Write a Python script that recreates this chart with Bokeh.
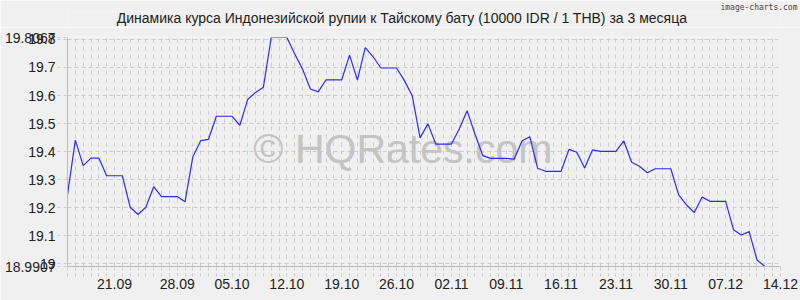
from bokeh.plotting import figure
from bokeh.layouts import column
from bokeh.models import Range1d, FixedTicker, Label
from bokeh.embed import file_html
from bokeh.resources import INLINE

# Daily rate, 10000 IDR / 1 THB
values = [
    19.246, 19.441, 19.350, 19.377, 19.377, 19.314, 19.314, 19.314, 19.202, 19.176,
    19.202, 19.275, 19.240, 19.240, 19.240, 19.221, 19.382, 19.439, 19.444, 19.526,
    19.526, 19.526, 19.494, 19.586, 19.611, 19.629, 19.8067, 19.8067, 19.8067, 19.748,
    19.694, 19.623, 19.613, 19.656, 19.656, 19.656, 19.744, 19.655, 19.771, 19.738,
    19.698, 19.698, 19.698, 19.653, 19.599, 19.449, 19.499, 19.427, 19.427, 19.427,
    19.481, 19.546, 19.463, 19.386, 19.376, 19.376, 19.376, 19.373, 19.438, 19.453,
    19.341, 19.330, 19.330, 19.330, 19.408, 19.398, 19.342, 19.406, 19.401, 19.401,
    19.401, 19.438, 19.362, 19.348, 19.325, 19.339, 19.339, 19.339, 19.246, 19.210,
    19.183, 19.238, 19.223, 19.223, 19.223, 19.122, 19.103, 19.115, 19.014, 18.9907,
    18.9907, 18.9907,
]
day_index = list(range(len(values)))

x_tick_days = [6, 14, 21, 28, 35, 42, 49, 56, 63, 70, 77, 84, 91]
x_tick_labels = ["21.09", "28.09", "05.10", "12.10", "19.10", "26.10", "02.11",
                 "09.11", "16.11", "23.11", "30.11", "07.12", "14.12"]

y_ticks = [18.9907, 19.0, 19.1, 19.2, 19.3, 19.4, 19.5, 19.6, 19.7, 19.8, 19.8067]
y_tick_labels = ["18.9907", "19", "19.1", "19.2", "19.3", "19.4", "19.5", "19.6",
                 "19.7", "19.8", "19.8067"]

title_text = "Динамика курса Индонезийской рупии к Тайскому бату (10000 IDR / 1 THB) за 3 месяца"
credit_text = "image-charts.com"

BG = "#f0f0f0"
GRID = "#cccccc"
FONT = "Liberation Sans"

W = 800
HEADER_H = 27
FL, FT, FW, FH, FB = 67, 10, 713, 229, 34

# ---- header (title + credit); its frame is aligned with the chart frame ----
head = figure(width=W, height=HEADER_H, output_backend="svg", toolbar_location=None,
              x_range=Range1d(0, 1), y_range=Range1d(0, 1),
              x_axis_type=None, y_axis_type=None,
              min_border_left=0, min_border_right=0, min_border_top=0,
              min_border_bottom=0)
head.background_fill_color = BG
head.border_fill_color = BG
head.outline_line_color = None
head.grid.visible = False

head.title.text = credit_text
head.title.align = "right"
head.title.offset = -(W - FL - FW - 3)
head.title.standoff = 0
head.title.text_font = "DejaVu Sans Mono"
head.title.text_font_size = "8px"
head.title.text_font_style = "normal"
head.title.text_color = "#444444"

# screen units: relative to the frame's bottom-left corner
head.add_layout(Label(x=401.5 - FL, y=HEADER_H - 17, x_units="screen", y_units="screen",
                      text=title_text, text_align="center", text_baseline="middle",
                      text_font=FONT, text_font_size="14px", text_color="#222222"))

# ---- chart ----
p = figure(width=W, height=FT + FH + FB, output_backend="svg", toolbar_location=None,
           x_range=Range1d(day_index[0], day_index[-1]),
           y_range=Range1d(min(values), max(values)),
           frame_width=FW, frame_height=FH,
           min_border_left=FL, min_border_right=W - FL - FW, min_border_top=FT,
           min_border_bottom=FB)
p.background_fill_color = BG
p.border_fill_color = BG
p.outline_line_color = None

# x axis
p.xaxis.ticker = FixedTicker(ticks=x_tick_days, minor_ticks=day_index)
p.xaxis.major_label_overrides = {d: s for d, s in zip(x_tick_days, x_tick_labels)}
p.xaxis.major_tick_out = 0
p.xaxis.major_tick_in = 0
p.xaxis.minor_tick_out = 10
p.xaxis.minor_tick_in = 0
p.xaxis.minor_tick_line_color = GRID
p.xaxis.minor_tick_line_dash = "3 3"
p.xaxis.major_label_standoff = 2
p.xaxis.axis_line_color = "#bbbbbb"
p.xaxis.major_label_text_font = FONT
p.xaxis.major_label_text_font_size = "14px"
p.xaxis.major_label_text_color = "#222222"

# y axis
p.yaxis.ticker = FixedTicker(ticks=y_ticks, minor_ticks=[])
p.yaxis.major_label_overrides = {v: s for v, s in zip(y_ticks, y_tick_labels)}
p.yaxis.major_tick_out = 10
p.yaxis.major_tick_in = 0
p.yaxis.major_tick_line_color = GRID
p.yaxis.major_tick_line_dash = "3 3"
p.yaxis.major_label_standoff = 2
p.yaxis.axis_line_color = "#bbbbbb"
p.yaxis.major_label_text_font = FONT
p.yaxis.major_label_text_font_size = "14px"
p.yaxis.major_label_text_color = "#222222"

# grids
p.xgrid.ticker = FixedTicker(ticks=day_index)
p.xgrid.grid_line_color = GRID
p.xgrid.grid_line_dash = "4 4"
p.ygrid.ticker = FixedTicker(ticks=y_ticks)
p.ygrid.grid_line_color = GRID
p.ygrid.grid_line_dash = "4 3"

# watermark
p.add_layout(Label(x=42.8, y=19.41, text="© HQRates.com", text_align="center",
                   text_baseline="middle", text_font=FONT, text_font_size="41px",
                   text_color="#c4c4c4", level="underlay"))

p.line(day_index, values, line_color="#2b2bff", line_width=1.2)

layout = column(head, p, spacing=0)
open("out.html", "w").write(file_html(layout, INLINE))
